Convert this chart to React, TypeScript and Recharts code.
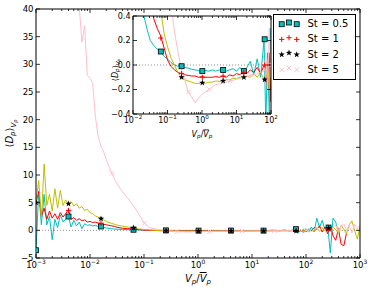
import React from "react";
import { ComposedChart, Line, XAxis, YAxis, ReferenceLine, ReferenceArea } from "recharts";

const FONT = "DejaVu Sans";

// log10(V_p / mean V_p) where the curves are sampled
const exps = [
  -3.0, -2.95, -2.9, -2.85, -2.8, -2.75, -2.7, -2.65, -2.6, -2.55, -2.5, -2.45, -2.4, -2.35, -2.3, -2.25,
  -2.2, -2.15, -2.1, -2.05, -2.0, -1.95, -1.9, -1.85, -1.8, -1.75, -1.7, -1.65, -1.6, -1.55, -1.5,
  -1.4, -1.3, -1.2, -1.1, -1.0, -0.9, -0.8, -0.7, -0.6, -0.5, -0.4, -0.3, -0.2, -0.1, 0, 0.1, 0.2,
  0.3, 0.4, 0.5, 0.6, 0.7, 0.8, 0.9, 1.0, 1.1, 1.2, 1.3, 1.4, 1.5, 1.6, 1.7, 1.8,
  1.85, 1.9, 1.95, 2.0, 2.05, 2.1, 2.15, 2.2, 2.25, 2.3, 2.35, 2.4, 2.45, 2.5, 2.55, 2.6, 2.65, 2.7,
  2.75, 2.8, 2.85, 2.9, 2.95, 3.0,
];

const st05 = [
  -3.6, 7.0, 1.0, 6.5, 1.0, 2.5, -1.7, 2.0, 0.5, 2.8, 1.5, 2.0, 2.5, 0.6, 1.8, 0.8,
  1.5, 0.3, 1.2, 0.9, 1.0, 0.8, 0.9, 0.7, 0.65, 0.55, 0.42, 0.36, 0.3, 0.25, 0.2,
  0.16, 0.13, 0.11, 0.07, 0.05, 0.02, 0.0, -0.01, -0.01, -0.02, -0.025, -0.035, -0.04, -0.045, -0.05, -0.045, -0.05,
  -0.04, -0.05, -0.04, -0.04, -0.05, -0.04, -0.03, -0.05, -0.02, -0.06, -0.02, 0.03, -0.08, 0.05, -0.1, 0.21,
  -0.5, 0.1, -0.4, 0.3, -0.2, 0.6, -0.3, 2.2, 0.5, 1.8, 0.2, 1.0, -4.1, 2.2, 1.5, -0.5, null, null,
  null, null, null, null, null, null,
];

const st1 = [
  5.0, 7.0, 2.5, 4.0, 2.0, 3.5, 2.2, 3.0, 2.0, 3.2, 2.4, 3.0, 3.8, 2.0, 2.3, 1.8,
  2.1, 1.7, 1.9, 1.5, 1.6, 1.4, 1.5, 1.3, 1.25, 1.1, 1.0, 0.9, 0.8, 0.7, 0.55,
  0.38, 0.3, 0.24, 0.14, 0.04, -0.01, -0.04, -0.06, -0.07, -0.08, -0.085, -0.09, -0.09, -0.1, -0.095, -0.1, -0.1,
  -0.1, -0.095, -0.1, -0.09, -0.1, -0.08, -0.09, -0.07, -0.08, -0.05, -0.07, -0.04, -0.06, -0.02, -0.07, 0.0,
  0.0, -0.2, 0.1, -0.3, 0.2, -0.1, 0.5, 0.2, 0.8, -0.3, 0.6, -0.6, 0.9, -1.0, -1.8, 0.3, -2.5, -2.8,
  -0.5, null, null, null, null, null,
];

const st2 = [
  5.0, 9.0, 2.0, 12.0, 4.5, 6.5, 3.5, 7.5, 4.0, 7.2, 4.5, 5.5, 4.8, 5.2, 4.4, 4.8,
  4.0, 4.3, 3.6, 3.8, 3.2, 3.0, 2.6, 2.4, 2.1, 1.9, 1.6, 1.4, 1.25, 1.1, 0.95,
  0.75, 0.58, 0.45, 0.26, 0.15, 0.06, 0.0, -0.06, -0.1, -0.12, -0.13, -0.14, -0.15, -0.15, -0.145, -0.15, -0.14,
  -0.14, -0.13, -0.135, -0.13, -0.12, -0.12, -0.11, -0.11, -0.1, -0.1, -0.09, -0.1, -0.07, -0.1, -0.06, -0.12,
  -0.1, 0.05, -0.2, 0.1, -0.3, 0.2, -0.1, 0.3, -0.2, 0.4, 0.0, 0.5, -0.3, 0.6, 0.1, -0.5, 0.9, 0.2,
  -0.6, 1.0, 1.7, 0.0, -1.6, 0.7,
];

const st5 = [
  90, 85, 80, 75, 70, 64, 60, 56, 52, 49, 47, 45, 44, 43, 42, 41,
  40.5, 34, 37, 28, 27.5, 26.5, 20.5, 17, 15.2, 14.3, 12.8, 11.6, 10.4, 9.3, 8.4,
  7.0, 5.8, 4.5, 3.0, 1.3, 0.5, 0.28, 0.11, -0.03, -0.12, -0.22, -0.26, -0.31, -0.27, -0.24, -0.22, -0.2,
  -0.18, -0.16, -0.155, -0.15, -0.14, -0.13, -0.125, -0.115, -0.11, -0.1, -0.095, -0.085, -0.08, -0.07, -0.06, -0.05,
  0.1, -0.2, 0.3, -0.1, 0.4, -0.3, 0.2, 0.5, -0.2, 0.6, 0.0, 0.8, -0.2, 0.5, 1.0, -0.3, 0.7, 1.2,
  0.0, 0.9, -0.5, 1.1, 0.3, 1.0,
];

// markers, one every factor of 4
const markExps = [-3.0, -2.398, -1.796, -1.194, -0.592, 0.01, 0.612, 1.214, 1.816, 2.418];
const st05Marks = [-3.6, 2.5, 0.7, 0.11, -0.01, -0.05, -0.04, -0.05, 0.21, 0.5];
const st1Marks = [5.0, 3.6, 1.3, 0.22, -0.07, -0.1, -0.09, -0.06, 0.0, 0.3];
const st2Marks = [5.0, 4.8, 2.1, 0.45, -0.1, -0.145, -0.13, -0.1, -0.12, 0.4];
const st5MarkExps = [-1.593, -0.991, -0.389, 0.213, 0.815, 1.417, 2.019, 2.621];
const st5Marks = [10.3, 1.3, -0.22, -0.2, -0.13, -0.085, 0.0, 0.3];

const mainYTicks = [-5, 0, 5, 10, 15, 20, 25, 30, 35, 40];
const insetYTicks = [-0.4, -0.2, 0, 0.2, 0.4];
const decades = [1e-3, 1e-2, 1e-1, 1, 10, 100, 1000];
const minorSteps = [2, 3, 4, 5, 6, 7, 8, 9];
const legendLabels = ["St = 0.5", "St = 1", "St = 2", "St = 5"];

const colors = ["#00bfbf", "#ff0000", "#bfbf00", "#ffc0cb"];

const logTicks = (lo: number, hi: number) =>
  decades
    .filter((d) => d >= lo && d <= hi)
    .flatMap((d) => (d < hi ? [d, ...minorSteps.map((m) => m * d)] : [d]));

const mainXTicks = logTicks(1e-3, 1e3);
const insetXTicks = logTicks(1e-2, 1e2);

const rows = exps.map((e, i) => ({ x: 10 ** e, c: st05[i], r: st1[i], y: st2[i], p: st5[i] }));
const markRows = markExps.map((e, i) => ({ x: 10 ** e, c: st05Marks[i], r: st1Marks[i], y: st2Marks[i] }));
const pinkRows = st5MarkExps.map((e, i) => ({ x: 10 ** e, p: st5Marks[i] }));

const minus = (s: string) => s.replace("-", "\u2212");
const isDecade = (v: number) => Math.abs(Math.log10(v) - Math.round(Math.log10(v))) < 1e-6;

function Mark({ kind, cx, cy }: { kind: number; cx: number; cy: number }) {
  if (cx == null || cy == null || isNaN(cx) || isNaN(cy)) return null;
  if (kind === 0)
    return <rect x={cx - 2.5} y={cy - 2.5} width={5} height={5} fill="#00bfbf" stroke="#000" strokeWidth={0.8} />;
  if (kind === 1)
    return <path d={`M${cx - 2.6},${cy}H${cx + 2.6}M${cx},${cy - 2.6}V${cy + 2.6}`} stroke="#f00" strokeWidth={1} />;
  if (kind === 2) {
    const pts = Array.from({ length: 10 }, (_, k) => {
      const a = ((-90 + 36 * k) * Math.PI) / 180;
      const r = k % 2 === 0 ? 3.3 : 1.35;
      return `${cx + r * Math.cos(a)},${cy + r * Math.sin(a)}`;
    });
    return <polygon points={pts.join(" ")} fill="#000" />;
  }
  return (
    <path
      d={`M${cx - 2.2},${cy - 2.2}L${cx + 2.2},${cy + 2.2}M${cx - 2.2},${cy + 2.2}L${cx + 2.2},${cy - 2.2}`}
      stroke="#ffc0cb"
      strokeWidth={1}
    />
  );
}

function LogTick(props: any) {
  const { x, y, payload, side, fs } = props;
  const v = payload.value;
  const major = isDecade(v);
  const len = major ? 4 : 2;
  const dir = side === "bottom" ? -1 : 1;
  const exp = Math.round(Math.log10(v));
  return (
    <g>
      <line x1={x} x2={x} y1={y} y2={y + dir * len} stroke="#000" strokeWidth={0.8} />
      {side === "bottom" && major && (
        <text x={x} y={y + fs + 1} textAnchor="middle" fontSize={fs} fontFamily={FONT} fill="#000">
          10
          <tspan dy={-fs * 0.45} fontSize={fs * 0.7}>
            {minus(String(exp))}
          </tspan>
        </text>
      )}
    </g>
  );
}

function ValTick(props: any) {
  const { x, y, payload, side, fs, digits } = props;
  const dir = side === "left" ? 1 : -1;
  return (
    <g>
      <line x1={x} x2={x + dir * 4} y1={y} y2={y} stroke="#000" strokeWidth={0.8} />
      {side === "left" && (
        <text x={x - 2.5} y={y} dy={fs * 0.36} textAnchor="end" fontSize={fs} fontFamily={FONT} fill="#000">
          {minus(payload.value.toFixed(digits))}
        </text>
      )}
    </g>
  );
}

const yLabel = (fs: number, dx: number, shift: number) => (p: any) => {
  const vb = p.viewBox;
  const cx = vb.x + dx;
  const cy = vb.y + vb.height / 2 + shift;
  return (
    <text x={cx} y={cy} transform={`rotate(-90 ${cx} ${cy})`} textAnchor="middle" fontSize={fs} fontFamily={FONT} fill="#000">
      ⟨<tspan fontStyle="italic">D</tspan>
      <tspan fontSize={fs * 0.7} dy={fs * 0.2} fontStyle="italic">p</tspan>
      <tspan dy={-fs * 0.2}>⟩</tspan>
      <tspan fontSize={fs * 0.7} dy={fs * 0.25} fontStyle="italic">V</tspan>
      <tspan fontSize={fs * 0.5} dy={fs * 0.1} fontStyle="italic">p</tspan>
    </text>
  );
};

const xLabel = (fs: number, dy: number) => (p: any) => {
  const vb = p.viewBox;
  return (
    <text x={vb.x + vb.width / 2} y={vb.y + dy} textAnchor="middle" fontSize={fs} fontFamily={FONT} fill="#000" fontStyle="italic">
      V<tspan fontSize={fs * 0.7} dy={fs * 0.2}>p</tspan>
      <tspan dy={-fs * 0.2} fontStyle="normal">/</tspan>
      <tspan textDecoration="overline" style={{ textDecoration: "overline" }}>V</tspan>
      <tspan fontSize={fs * 0.7} dy={fs * 0.2}>p</tspan>
    </text>
  );
};

function series(xId: string, yId: string) {
  const base = { xAxisId: xId, yAxisId: yId, isAnimationActive: false, activeDot: false, type: "linear" as const };
  const keys = ["c", "r", "y"];
  const out: React.ReactNode[] = [];
  keys.forEach((k, i) => {
    out.push(<Line key={k} {...base} data={rows} dataKey={k} stroke={colors[i]} strokeWidth={1} dot={false} />);
    out.push(
      <Line
        key={k + "m"}
        {...base}
        data={markRows}
        dataKey={k}
        stroke="none"
        strokeWidth={0}
        dot={(p: any) => <Mark key={k + p.index} kind={i} cx={p.cx} cy={p.cy} />}
      />
    );
  });
  out.push(<Line key="p" {...base} data={rows} dataKey="p" stroke={colors[3]} strokeWidth={1} dot={false} />);
  out.push(
    <Line
      key="pm"
      {...base}
      data={pinkRows}
      dataKey="p"
      stroke="none"
      strokeWidth={0}
      dot={(p: any) => <Mark key={"p" + p.index} kind={3} cx={p.cx} cy={p.cy} />}
    />
  );
  return out;
}

const axisLine = { stroke: "#000", strokeWidth: 1 };

function Axes({ xDomain, xTicks, yDomain, yTicks, fs, digits, left, right, top, bottom, labelFs, yDx, yShift, xDy }: any) {
  return [
    <XAxis key="xb" xAxisId="b" dataKey="x" type="number" scale="log" domain={xDomain} ticks={xTicks} interval={0}
      allowDataOverflow tickSize={0} tickMargin={0} height={bottom} axisLine={axisLine}
      tick={(p: any) => <LogTick {...p} side="bottom" fs={fs} />} label={xLabel(labelFs, xDy)} />,
    <XAxis key="xt" xAxisId="t" orientation="top" dataKey="x" type="number" scale="log" domain={xDomain} ticks={xTicks}
      interval={0} allowDataOverflow tickSize={0} tickMargin={0} height={top} axisLine={axisLine}
      tick={(p: any) => <LogTick {...p} side="top" fs={fs} />} />,
    <YAxis key="yl" yAxisId="l" type="number" domain={yDomain} ticks={yTicks} interval={0} allowDataOverflow
      tickSize={0} tickMargin={0} width={left} axisLine={axisLine}
      tick={(p: any) => <ValTick {...p} side="left" fs={fs} digits={digits} />} label={yLabel(labelFs, yDx, yShift)} />,
    <YAxis key="yr" yAxisId="r" orientation="right" type="number" domain={yDomain} ticks={yTicks} interval={0}
      allowDataOverflow tickSize={0} tickMargin={0} width={right} axisLine={axisLine}
      tick={(p: any) => <ValTick {...p} side="right" fs={fs} digits={digits} />} />,
  ];
}

function LegendBox() {
  const offs = [0.7, -1, 0.7];
  return (
    <svg width={83} height={66} style={{ position: "absolute", left: 273, top: 14 }}>
      <rect x={0.5} y={0.5} width={82} height={65} fill="#fff" stroke="#000" strokeWidth={1} />
      {legendLabels.map((t, i) => {
        const cy = 9.5 + i * 15.2;
        return (
          <g key={t}>
            {[8.7, 16, 23.7].map((cx, j) => (
              <Mark key={j} kind={i} cx={cx} cy={cy + offs[j]} />
            ))}
            <text x={34.5} y={cy} dy={3.6} fontSize={10} fontFamily={FONT} fill="#000">
              {t}
            </text>
          </g>
        );
      })}
    </svg>
  );
}

export default function App() {
  return (
    <div style={{ position: "absolute", left: 0, top: 0, width: 373, height: 291, background: "#fff" }}>
      <div style={{ position: "absolute", left: 0, top: 0 }}>
        <ComposedChart width={373} height={291} margin={{ top: 0, right: 0, bottom: 0, left: 0 }}>
          {Axes({ xDomain: [1e-3, 1e3], xTicks: mainXTicks, yDomain: [-5, 40], yTicks: mainYTicks, fs: 8.5, digits: 0,
            left: 36, right: 13, top: 9, bottom: 33, labelFs: 10, yDx: 13, yShift: 0, xDy: 24 })}
          <ReferenceLine xAxisId="b" yAxisId="l" y={0} stroke="#777" strokeWidth={0.8} strokeDasharray="1 2" />
          {series("b", "l")}
        </ComposedChart>
      </div>
      <div style={{ position: "absolute", left: 100, top: 10 }}>
        <ComposedChart width={190} height={130} margin={{ top: 0, right: 0, bottom: 0, left: 0 }}>
          {Axes({ xDomain: [1e-2, 1e2], xTicks: insetXTicks, yDomain: [-0.4, 0.4], yTicks: insetYTicks, fs: 8, digits: 1,
            left: 33, right: 19, top: 6, bottom: 26, labelFs: 8, yDx: 17.5, yShift: 5, xDy: 22.5 })}
          <ReferenceArea xAxisId="b" yAxisId="l" x1={1e-2} x2={1e2} y1={-0.4} y2={0.4} fill="#fff" fillOpacity={1} stroke="none" />
          <ReferenceLine xAxisId="b" yAxisId="l" y={0} stroke="#777" strokeWidth={0.8} strokeDasharray="1 2" />
          {series("b", "l")}
        </ComposedChart>
      </div>
      <LegendBox />
    </div>
  );
}
